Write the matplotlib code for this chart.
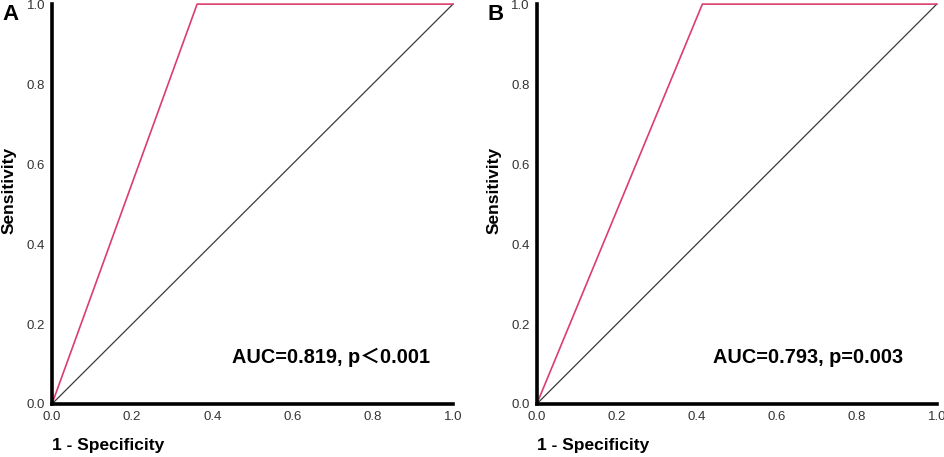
import numpy as np
import matplotlib.pyplot as plt

plt.rcParams['font.family'] = ['Liberation Sans', 'Noto Sans CJK SC', 'DejaVu Sans']

# ROC curve points (1 - specificity, sensitivity)
fpr_a = [0.0, 0.362, 1.0]
tpr_a = [0.0, 1.0, 1.0]
fpr_b = [0.0, 0.414, 1.0]
tpr_b = [0.0, 1.0, 1.0]
ref_line = [0.0, 1.0]
panel_labels = ['A', 'B']
auc_texts = ['AUC=0.819, p\uff1c0.001', 'AUC=0.793, p=0.003']
ticks = [0.0, 0.2, 0.4, 0.6, 0.8, 1.0]

fig = plt.figure(figsize=(9.45, 4.57), dpi=100)
axes = [fig.add_axes([0.055, 0.116, 0.4243, 0.875]),
        fig.add_axes([0.568, 0.116, 0.4233, 0.875])]

curves = [(fpr_a, tpr_a), (fpr_b, tpr_b)]
auc_x = [0.45, 0.44]

for i, ax in enumerate(axes):
    fx, ty = curves[i]
    ax.plot(ref_line, ref_line, color='#3a3a3a', lw=0.9, clip_on=False)
    ax.plot(fx, ty, color='#DC3D6E', lw=1.2, clip_on=False)
    ax.set_xlim(0, 1)
    ax.set_ylim(0, 1)
    ax.set_xticks(ticks)
    ax.set_yticks(ticks)
    ax.set_xticklabels(['%.1f' % t for t in ticks])
    ax.set_yticklabels(['%.1f' % t for t in ticks])
    ax.tick_params(length=0, labelsize=9.5, pad=5, colors='#333333')
    for s in ['top', 'right']:
        ax.spines[s].set_visible(False)
    for s in ['left', 'bottom']:
        ax.spines[s].set_linewidth(2.6)
        ax.spines[s].set_color('black')
    ax.set_ylabel('Sensitivity', fontsize=12.5, fontweight='bold')
    ax.yaxis.set_label_coords(-0.088, 0.535)
    ax.text(0.0, -0.085, '1 - Specificity', transform=ax.transAxes,
            fontsize=12.5, fontweight='bold', va='top', ha='left')
    ax.text(auc_x[i], 0.117, auc_texts[i], transform=ax.transAxes,
            fontsize=14.3, fontweight='bold', va='center', ha='left')
    ax.text(-0.123, 0.975, panel_labels[i], transform=ax.transAxes,
            fontsize=16, fontweight='bold', va='center', ha='left')

fig.savefig('out.png', dpi=100)
